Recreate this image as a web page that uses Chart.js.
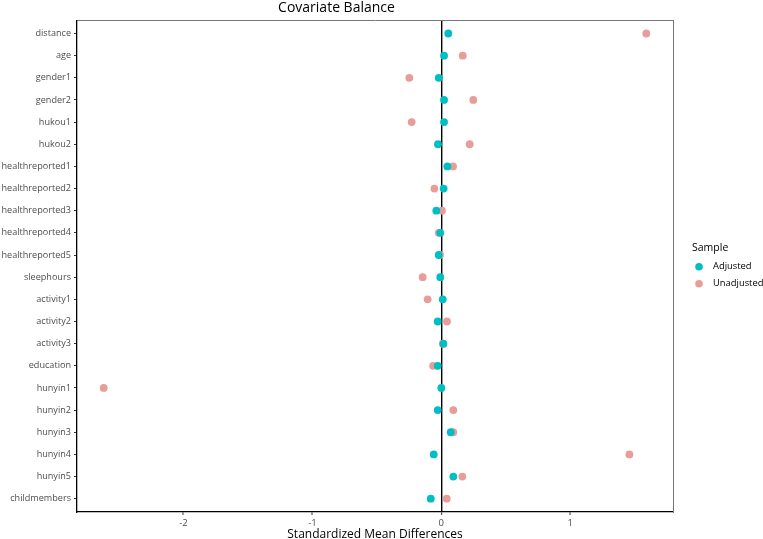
<!DOCTYPE html>
<html>
<head>
<meta charset="utf-8">
<script src="https://cdn.jsdelivr.net/npm/chart.js@4.4.0/dist/chart.umd.min.js"></script>
<style>
  html, body { margin: 0; padding: 0; background: #fff; }
  #wrap { width: 763px; height: 539px; }
</style>
</head>
<body>
<div id="wrap"><canvas id="chart" width="763" height="539"></canvas></div>
<script>
const covariates = [
  'distance', 'age', 'gender1', 'gender2', 'hukou1', 'hukou2',
  'healthreported1', 'healthreported2', 'healthreported3', 'healthreported4', 'healthreported5',
  'sleephours', 'activity1', 'activity2', 'activity3', 'education',
  'hunyin1', 'hunyin2', 'hunyin3', 'hunyin4', 'hunyin5', 'childmembers',
];
// standardized mean differences
const adjusted = [
  0.054, 0.021, -0.020, 0.021, 0.021, -0.026,
  0.047, 0.018, -0.039, -0.008, -0.020,
  -0.008, 0.011, -0.028, 0.016, -0.028,
  0.000, -0.028, 0.073, -0.059, 0.093, -0.082,
];
const unadjusted = [
  1.590, 0.166, -0.248, 0.248, -0.230, 0.220,
  0.091, -0.054, 0.005, -0.020, -0.010,
  -0.145, -0.106, 0.044, 0.012, -0.064,
  -2.619, 0.093, 0.093, 1.459, 0.163, 0.042,
];
const xTicks = [-2, -1, 0, 1];

const FONT = "'Open Sans', 'Noto Sans', sans-serif";
const COL_ADJ = '#00BFC4';
const COL_UNADJ = '#E89E98';

const toPoints = vals => vals.map((v, i) => ({ x: v, y: i }));

// ggplot-like legend to the right of the panel
const sideLegend = {
  id: 'sideLegend',
  afterDraw(chart) {
    const ctx = chart.ctx;
    const x0 = chart.chartArea.right + 19;
    ctx.save();
    ctx.textBaseline = 'middle';
    ctx.textAlign = 'left';
    ctx.fillStyle = '#000';
    ctx.font = `10.5px ${FONT}`;
    ctx.fillText('Sample', x0, 248);
    ctx.font = `9.4px ${FONT}`;
    chart.data.datasets.forEach((ds, i) => {
      const y = 266.7 + i * 17;
      ctx.beginPath();
      ctx.fillStyle = ds.backgroundColor;
      ctx.arc(x0 + 7, y, 3.8, 0, Math.PI * 2);
      ctx.fill();
      ctx.fillStyle = '#000';
      ctx.fillText(ds.label, x0 + 21, y);
    });
    ctx.restore();
  },
};

const chartOptions = {
  type: 'scatter',
  data: {
    datasets: [
      {
        label: 'Adjusted',
        data: toPoints(adjusted),
        backgroundColor: COL_ADJ,
        borderColor: COL_ADJ,
        borderWidth: 0,
        pointRadius: 3.9,
        pointHoverRadius: 3.9,
      },
      {
        label: 'Unadjusted',
        data: toPoints(unadjusted),
        backgroundColor: COL_UNADJ,
        borderColor: COL_UNADJ,
        borderWidth: 0,
        pointRadius: 3.9,
        pointHoverRadius: 3.9,
      },
    ],
  },
  options: {
    responsive: false,
    animation: false,
    layout: { padding: { left: 0, right: 90, top: 0, bottom: 0 } },
    scales: {
      x: {
        type: 'linear',
        min: -2.826,
        max: 1.797,
        afterBuildTicks: s => { s.ticks = xTicks.map(v => ({ value: v })); },
        afterFit: s => { s.height = 27; },
        ticks: { color: '#4D4D4D', font: { family: FONT, size: 9.5 }, padding: 3 },
        grid: {
          drawOnChartArea: true,
          color: c => (c.tick && c.tick.value === 0 ? '#000' : 'rgba(0,0,0,0)'),
          lineWidth: c => (c.tick && c.tick.value === 0 ? 1.4 : 0),
          tickColor: '#333',
          tickLength: 3,
          tickWidth: 1,
        },
        border: { color: '#000', width: 1.3 },
        title: {
          display: true,
          text: 'Standardized Mean Differences',
          color: '#000',
          font: { family: FONT, size: 12, lineHeight: 1 },
          padding: { top: 0, bottom: -2 },
        },
      },
      x2: {
        type: 'linear',
        position: 'top',
        min: -2.826,
        max: 1.797,
        ticks: { display: false },
        grid: { display: false },
        border: { color: '#777', width: 1 },
        afterFit: s => { s.height = 0; },
      },
      y: {
        type: 'linear',
        reverse: true,
        min: -0.6,
        max: covariates.length - 0.4,
        afterBuildTicks: s => { s.ticks = covariates.map((_, i) => ({ value: i })); },
        afterFit: s => { s.width = 77; },
        ticks: {
          color: '#4D4D4D',
          font: { family: FONT, size: 9.1 },
          padding: 3,
          callback: v => covariates[v],
        },
        grid: { drawOnChartArea: false, tickColor: '#333', tickLength: 3 },
        border: { color: '#000', width: 1.3 },
      },
      y2: {
        type: 'linear',
        position: 'right',
        min: 0,
        max: 1,
        ticks: { display: false },
        grid: { display: false },
        border: { color: '#777', width: 1 },
        afterFit: s => { s.width = 0; },
      },
    },
    plugins: {
      title: {
        display: true,
        text: 'Covariate Balance',
        color: '#000',
        font: { family: FONT, size: 14, weight: 'normal', lineHeight: 1.2 },
        padding: { top: 0, bottom: 3.4 },
      },
      legend: { display: false },
      tooltip: { enabled: false },
    },
  },
  plugins: [sideLegend],
};

new Chart(document.getElementById('chart').getContext('2d'), chartOptions);
</script>
</body>
</html>
